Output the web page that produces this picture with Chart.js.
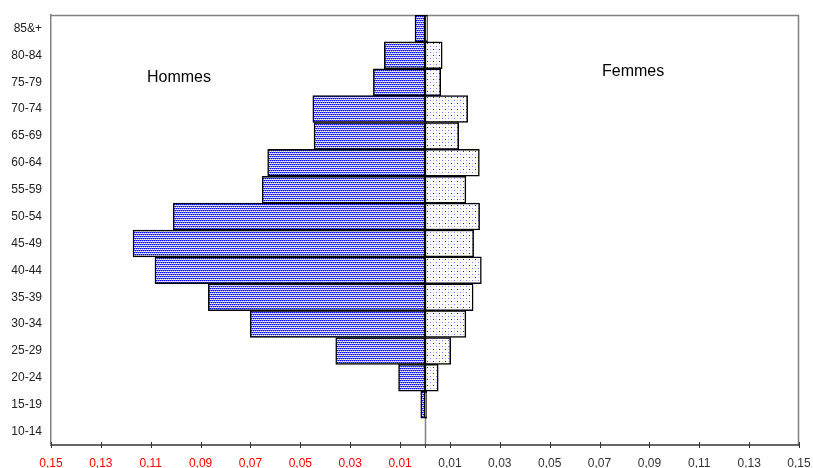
<!DOCTYPE html>
<html>
<head>
<meta charset="utf-8">
<script src="https://cdn.jsdelivr.net/npm/chart.js@4"></script>
<style>
html,body{margin:0;padding:0;background:#fff;}
#wrap{position:relative;width:813px;height:468px;}
</style>
</head>
<body>
<div id="wrap"><canvas id="c" width="813" height="468"></canvas></div>
<script>
// Age groups (youngest first)
const categories = ['10-14','15-19','20-24','25-29','30-34','35-39','40-44','45-49','50-54','55-59','60-64','65-69','70-74','75-79','80-84','85&+'];
// Hommes (shares, shown to the left)
const hommes = [0, 0.0017, 0.0106, 0.0358, 0.0701, 0.0869, 0.1083, 0.1171, 0.1010, 0.0653, 0.0631, 0.0445, 0.0450, 0.0207, 0.0163, 0.0040];
// Femmes (shares, shown to the right)
const femmes = [0, 0.0007, 0.0053, 0.0103, 0.0164, 0.0193, 0.0226, 0.0195, 0.0219, 0.0164, 0.0218, 0.0135, 0.0171, 0.0063, 0.0069, 0.0010];
// X tick values
const xTicks = [-0.15,-0.13,-0.11,-0.09,-0.07,-0.05,-0.03,-0.01,0.01,0.03,0.05,0.07,0.09,0.11,0.13,0.15];

function makePattern(draw, w, h){
  const c = document.createElement('canvas');
  c.width = w; c.height = h;
  const g = c.getContext('2d');
  g.fillStyle = '#ffffff'; g.fillRect(0,0,w,h);
  draw(g);
  return g.createPattern(c, 'repeat');
}
const ctx = document.getElementById('c').getContext('2d');
const malePattern = makePattern(g => {
  const px = (x,y,col)=>{g.fillStyle=col;g.fillRect(x,y,1,1);};
  for (let x=0;x<4;x++){ px(x,0, x%2===0 ? '#0000ff' : '#6a6aff'); }
  for (let x=0;x<4;x++){ px(x,2, x%2===1 ? '#0000ff' : '#6a6aff'); }
  px(0,1,'#b8b8ff'); px(2,1,'#b8b8ff');
  px(1,3,'#b8b8ff'); px(3,3,'#b8b8ff');
}, 4, 4);
const femalePattern = makePattern(g => {
  g.fillStyle = '#1a1aff'; g.fillRect(1,1,1,1);
  g.fillStyle = '#7a7aff'; g.fillRect(4,4,1,1);
  g.fillStyle = '#c8c8ff'; g.fillRect(1,4,1,1); g.fillRect(4,1,1,1);
}, 6, 6);

const overlay = {
  id: 'overlay',
  beforeDatasetsDraw(chart){
    const {ctx, chartArea:a, scales:{x}} = chart;
    const x0 = Math.round(x.getPixelForValue(0)) + 0.5;
    ctx.save();
    ctx.strokeStyle = '#808080';
    ctx.lineWidth = 1.5;
    ctx.beginPath(); ctx.moveTo(x0, a.top); ctx.lineTo(x0, a.bottom); ctx.stroke();
    ctx.beginPath();
    ctx.moveTo(a.left, a.top + 0.5); ctx.lineTo(a.right - 0.5, a.top + 0.5); ctx.lineTo(a.right - 0.5, a.bottom);
    ctx.stroke();
    ctx.restore();
  },
  afterDatasetsDraw(chart){
    const {ctx, chartArea:a, scales:{x}} = chart;
    ctx.save();
    ctx.strokeStyle = '#333333';
    ctx.lineWidth = 1.5;
    ctx.beginPath(); ctx.moveTo(a.left, a.bottom); ctx.lineTo(a.right, a.bottom); ctx.stroke();
    ctx.lineWidth = 1;
    xTicks.concat([0]).forEach(v => {
      const px = Math.round(x.getPixelForValue(v)) + 0.5;
      ctx.beginPath();
      ctx.moveTo(px, a.bottom - (v===0?0:3)); ctx.lineTo(px, a.bottom + 3);
      ctx.stroke();
    });
    ctx.fillStyle = '#000000';
    ctx.font = '16px "Liberation Sans", Arial, sans-serif';
    ctx.textBaseline = 'middle';
    ctx.textAlign = 'left';
    ctx.fillText('Hommes', 147, 78);
    ctx.fillText('Femmes', 602, 72);
    ctx.restore();
  }
};

new Chart(ctx, {
  type: 'bar',
  data: {
    labels: categories,
    datasets: [
      { label: 'Hommes', data: hommes.map(v => -v), backgroundColor: malePattern,
        borderColor: '#000000', borderWidth: 1.5, borderSkipped: false },
      { label: 'Femmes', data: femmes, backgroundColor: femalePattern,
        borderColor: '#000000', borderWidth: 1.5, borderSkipped: false }
    ]
  },
  options: {
    indexAxis: 'y',
    responsive: false,
    animation: false,
    events: [],
    layout: { padding: { top: 15, right: 14, left: 0, bottom: 0 } },
    datasets: { bar: { barPercentage: 1, categoryPercentage: 1 } },
    plugins: { legend: { display: false }, tooltip: { enabled: false } },
    scales: {
      x: {
        type: 'linear', min: -0.15, max: 0.15, stacked: true,
        afterBuildTicks: s => { s.ticks = xTicks.map(v => ({ value: v })); },
        afterFit: s => { s.height = 23; s.paddingLeft = 0; s.paddingRight = 0; },
        grid: { display: false, drawTicks: false },
        border: { display: false },
        ticks: {
          padding: 11,
          autoSkip: false, maxRotation: 0,
          font: { family: '"Liberation Sans", Arial, sans-serif', size: 12 },
          color: c => c.tick && c.tick.value < 0 ? '#ff0000' : '#333333',
          callback: v => Math.abs(v).toFixed(2).replace('.', ',')
        }
      },
      y: {
        type: 'category', stacked: true, reverse: true,
        afterFit: s => { s.width = 51; s.paddingTop = 0; s.paddingBottom = 0; },
        grid: { display: false, drawTicks: false },
        border: { display: true, color: '#808080', width: 1.5 },
        ticks: {
          padding: 9,
          autoSkip: false,
          font: { family: '"Liberation Sans", Arial, sans-serif', size: 12 },
          color: '#222222'
        }
      }
    }
  },
  plugins: [overlay]
});
</script>
</body>
</html>
